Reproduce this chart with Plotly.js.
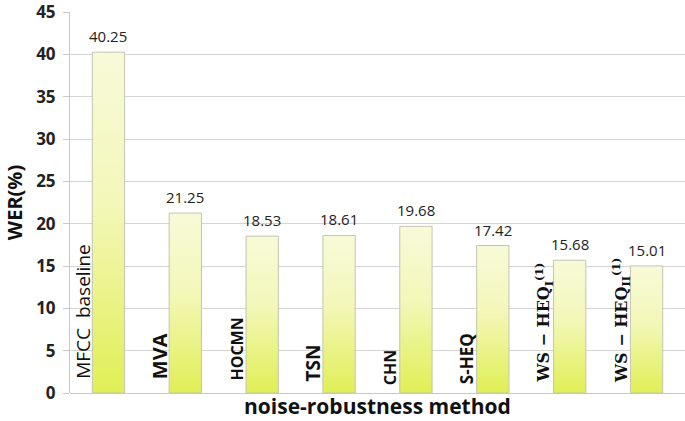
<!DOCTYPE html>
<html>
<head>
<meta charset="utf-8">
<script src="https://cdn.plot.ly/plotly-3.0.1.min.js"></script>
<style>html,body{margin:0;padding:0;background:#fff;}#chart{width:685px;height:421px;}</style>
</head>
<body>
<div id="chart"></div>
<script>
// Data
const categories = ["MFCC baseline", "MVA", "HOCMN", "TSN", "CHN", "S-HEQ", "WS-HEQ I", "WS-HEQ II"];
const werValues = [40.25, 21.25, 18.53, 18.61, 19.68, 17.42, 15.68, 15.01];
const valueLabels = ["40.25", "21.25", "18.53", "18.61", "19.68", "17.42", "15.68", "15.01"];
const categoryLabels = [
  "MFCC  baseline", "MVA", "HOCMN", "TSN", "CHN", "S-HEQ",
  "WS − HEQ<sub>I</sub><sup>(1)</sup>", "WS − HEQ<sub>II</sub><sup>(1)</sup>"
];
const yTicks = [0, 5, 10, 15, 20, 25, 30, 35, 40, 45];
const xTitle = "noise-robustness method";
const yTitle = "WER(%)";

// Style for each category label (kept separate from data)
const labelStyles = [
  {size: 19, family: "Open Sans, sans-serif", weight: "normal", shift: 12},
  {size: 20, family: "Open Sans, sans-serif", weight: "bold", shift: 12},
  {size: 16, family: "Open Sans, sans-serif", weight: "bold", shift: 10},
  {size: 19, family: "Open Sans, sans-serif", weight: "bold", shift: 10},
  {size: 16, family: "Open Sans, sans-serif", weight: "bold", shift: 6},
  {size: 17, family: "Open Sans, sans-serif", weight: "bold", shift: 7},
  {size: 16, family: "DejaVu Serif, serif", weight: "bold", shift: 8},
  {size: 16, family: "DejaVu Serif, serif", weight: "bold", shift: 8}
];

const trace = {
  type: "bar",
  x: categories,
  y: werValues,
  width: 0.42,
  marker: {color: "#eef5a0", line: {color: "#c4c4b0", width: 1}},
  hoverinfo: "x+y"
};

const annotations = [];
categories.forEach((c, i) => {
  annotations.push({
    x: i, y: werValues[i], xref: "x", yref: "y",
    text: valueLabels[i], showarrow: false,
    yanchor: "bottom", xanchor: "center", yshift: 4,
    font: {family: "Open Sans, sans-serif", size: 15, color: "#222"}
  });
  annotations.push({
    x: i - 0.34, y: 0, xref: "x", yref: "y",
    text: categoryLabels[i], showarrow: false, textangle: -90,
    yanchor: "bottom", xanchor: "center", yshift: labelStyles[i].shift,
    font: {family: labelStyles[i].family, size: labelStyles[i].size, color: "#111", weight: labelStyles[i].weight}
  });
});
annotations.push({
  x: 0.5, y: 0, xref: "paper", yref: "paper",
  text: xTitle, showarrow: false, xanchor: "center", yanchor: "bottom", yshift: -28, borderpad: 0,
  font: {family: "Open Sans, sans-serif", size: 21, color: "#111", weight: "bold"}
});

const layout = {
  width: 685, height: 421,
  margin: {l: 70, r: 0, t: 12, b: 28},
  paper_bgcolor: "#fff", plot_bgcolor: "#fff",
  showlegend: false,
  xaxis: {
    type: "category", showticklabels: false, ticks: "",
    showgrid: false, zeroline: false, showline: false,
    range: [-0.5, categories.length - 0.5]
  },
  yaxis: {
    range: [0, 45], tickvals: yTicks, ticktext: yTicks.map(String),
    ticklabeloverflow: "allow",
    showgrid: true, gridcolor: "#d4d4d4", gridwidth: 1,
    zeroline: true, zerolinecolor: "#c8c8c8",
    showline: true, linecolor: "#c8c8c8", ticks: "outside", ticklen: 6, tickcolor: "#c8c8c8",
    ticklabelstandoff: 4,
    tickfont: {family: "Open Sans, sans-serif", size: 17, color: "#222", weight: "bold"},
    title: {text: yTitle, standoff: 8,
      font: {family: "Open Sans, sans-serif", size: 20, color: "#111", weight: "bold"}}
  },
  annotations: annotations
};

Plotly.newPlot("chart", [trace], layout, {displayModeBar: false, staticPlot: true}).then(gd => {
  const svg = gd.querySelector("svg.main-svg");
  const ns = "http://www.w3.org/2000/svg";
  let defs = svg.querySelector("defs");
  if (!defs) { defs = document.createElementNS(ns, "defs"); svg.insertBefore(defs, svg.firstChild); }
  const g = document.createElementNS(ns, "linearGradient");
  g.setAttribute("id", "barGrad");
  g.setAttribute("x1", "0"); g.setAttribute("y1", "0");
  g.setAttribute("x2", "0"); g.setAttribute("y2", "1");
  [["0%", "#f8fad8"], ["45%", "#f3f7b8"], ["100%", "#e0ef55"]].forEach(([o, c]) => {
    const s = document.createElementNS(ns, "stop");
    s.setAttribute("offset", o); s.setAttribute("stop-color", c);
    g.appendChild(s);
  });
  defs.appendChild(g);
  gd.querySelectorAll(".bars .point path").forEach(p => {
    p.style.fill = "url(#barGrad)";
  });
});
</script>
</body>
</html>
